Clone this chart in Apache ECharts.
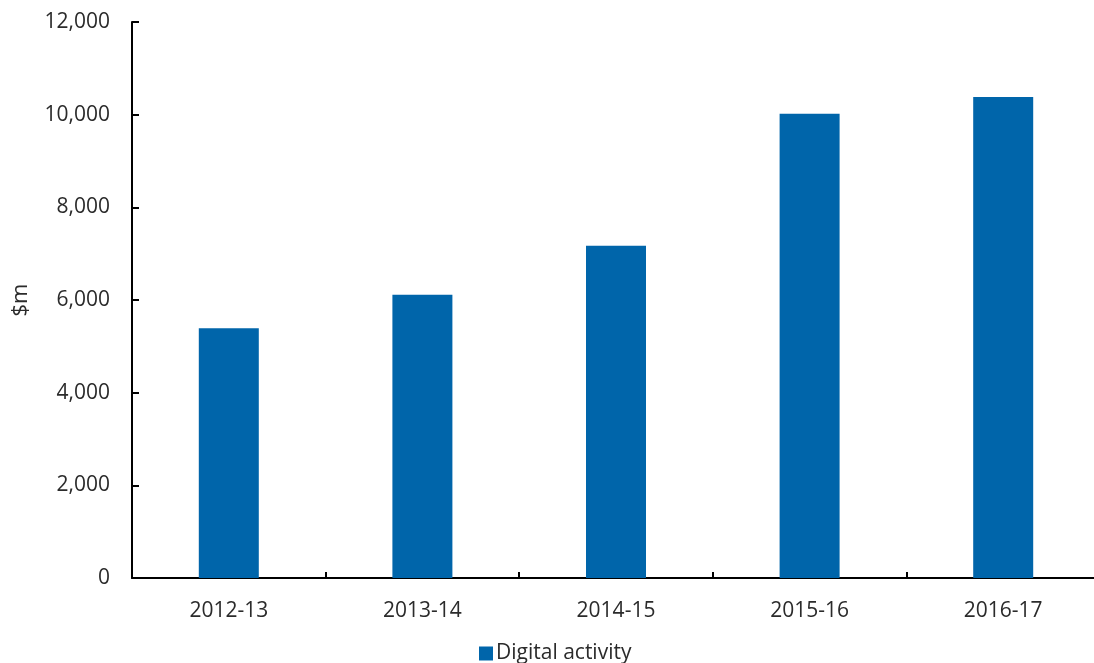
<!DOCTYPE html>
<html>
<head>
<meta charset="utf-8">
<script src="https://cdn.jsdelivr.net/npm/echarts@6/dist/echarts.min.js"></script>
<style>
html,body{margin:0;padding:0;background:#fff;overflow:hidden;width:1094px;height:663px;}
#chart{width:1100px;height:663px;}
</style>
</head>
<body>
<div id="chart"></div>
<script>
var categories = ['2012-13', '2013-14', '2014-15', '2015-16', '2016-17'];
var digitalActivity = [5390, 6115, 7170, 10020, 10380];
var seriesName = 'Digital activity';
var yAxisName = '$m';

var FONT = '"Open Sans", "Liberation Sans", sans-serif';
var TXT = '#2b2b2b';

var chart = echarts.init(document.getElementById('chart'), null, {renderer: 'canvas'});
chart.setOption({
  animation: false,
  backgroundColor: '#ffffff',
  grid: {left: 132, top: 22, right: 0, bottom: 85, containLabel: false},
  legend: {
    data: [seriesName],
    left: 474, top: 638,
    icon: 'rect', itemWidth: 14, itemHeight: 14, itemGap: 5,
    textStyle: {fontFamily: FONT, fontSize: 21, color: TXT, padding: [0,0,0,-2]}
  },
  xAxis: {
    type: 'category',
    data: categories,
    boundaryGap: true,
    axisLine: {lineStyle: {color: '#000', width: 2}},
    axisTick: {show: true, inside: true, length: 6, lineStyle: {color: '#000', width: 2}},
    axisLabel: {fontFamily: FONT, fontSize: 21, color: TXT, margin: 23},
    splitLine: {show: false}
  },
  yAxis: {
    type: 'value',
    min: 0, max: 12000, interval: 2000,
    name: yAxisName,
    nameLocation: 'middle',
    nameRotate: 90,
    nameGap: 100,
    nameTextStyle: {fontFamily: FONT, fontSize: 22, color: TXT},
    axisLine: {show: true, lineStyle: {color: '#000', width: 2}},
    axisTick: {show: true, inside: true, length: 7, lineStyle: {color: '#000', width: 2}},
    axisLabel: {
      fontFamily: FONT, fontSize: 21, color: TXT, margin: 22,
      formatter: function (v) { return v.toLocaleString('en-US'); }
    },
    splitLine: {show: false}
  },
  series: [{
    name: seriesName,
    type: 'bar',
    data: digitalActivity,
    barWidth: 60,
    itemStyle: {color: '#0065AA'}
  }]
});
</script>
</body>
</html>
